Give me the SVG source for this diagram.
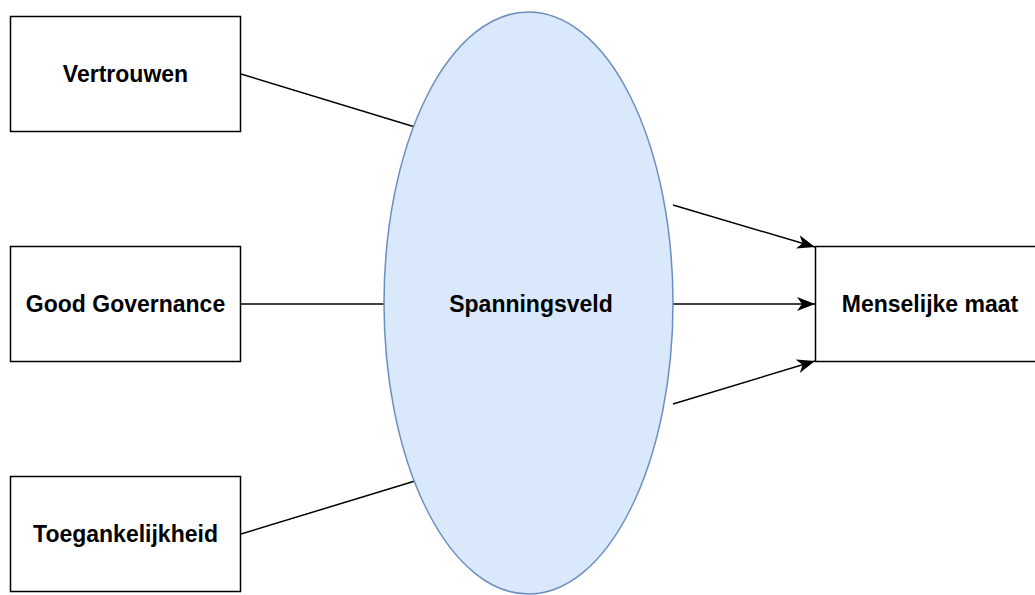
<svg xmlns="http://www.w3.org/2000/svg" width="1035" height="595" viewBox="0 0 1035 595">
<style>
.box{fill:#fff;stroke:#000;stroke-width:1.5}
.lbl{font-family:"Liberation Sans",Arial,sans-serif;font-weight:bold;font-size:23px;fill:#000;text-anchor:middle}
.edge{stroke:#000;stroke-width:1.5;fill:none}
</style>
<defs>
<marker id="arr" viewBox="0 0 18 14" refX="18" refY="7" markerWidth="18" markerHeight="14" markerUnits="userSpaceOnUse" orient="auto">
<path d="M0,0 L18,7 L0,14 L5,7 Z" fill="#000"/>
</marker>
</defs>
<rect width="1035" height="595" fill="#fff"/>
<g id="connectors">
<line class="edge" x1="241" y1="74" x2="415" y2="127"/>
<line class="edge" x1="241" y1="304" x2="384" y2="304"/>
<line class="edge" x1="241" y1="534" x2="415" y2="481"/>
<line class="edge" x1="673" y1="205" x2="815" y2="247" marker-end="url(#arr)"/>
<line class="edge" x1="673" y1="304" x2="815" y2="304" marker-end="url(#arr)"/>
<line class="edge" x1="673" y1="404" x2="815" y2="361" marker-end="url(#arr)"/>
</g>
<g id="spanningsveld">
<ellipse cx="528.5" cy="303" rx="144.5" ry="291" fill="#dae8fc" stroke="#6c8ebf" stroke-width="1.5"/>
<text class="lbl" x="531" y="312">Spanningsveld</text>
</g>
<g id="vertrouwen">
<rect class="box" x="10.5" y="16.5" width="230" height="115"/>
<text class="lbl" x="125.5" y="82">Vertrouwen</text>
</g>
<g id="goodgovernance">
<rect class="box" x="10.5" y="246.5" width="230" height="115"/>
<text class="lbl" x="125.5" y="312">Good Governance</text>
</g>
<g id="toegankelijkheid">
<rect class="box" x="10.5" y="476.5" width="230" height="115"/>
<text class="lbl" x="125.5" y="542">Toegankelijkheid</text>
</g>
<g id="menselijkemaat">
<rect class="box" x="815.5" y="246.5" width="230" height="115"/>
<text class="lbl" x="930" y="312">Menselijke maat</text>
</g>
</svg>
